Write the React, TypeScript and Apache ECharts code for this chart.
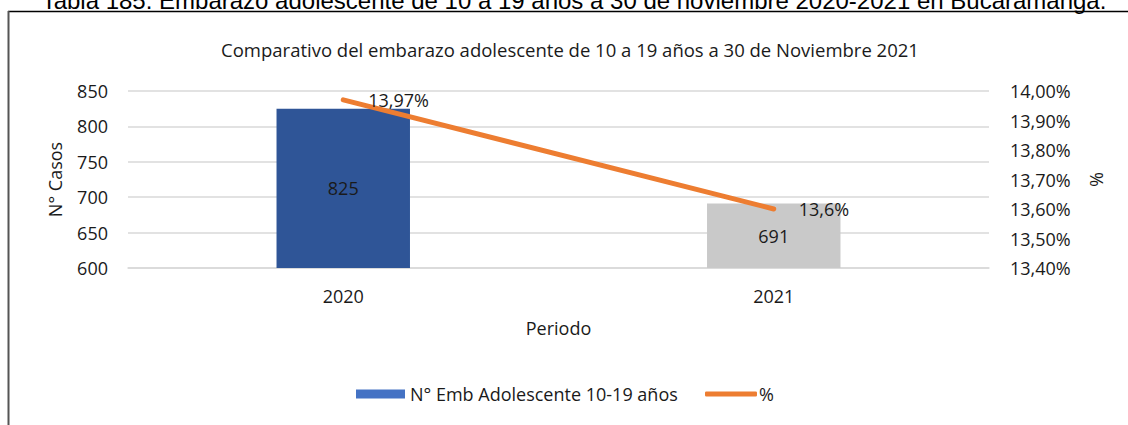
import React, { useEffect, useRef } from "react";
import * as echarts from "echarts";

const categories = ["2020", "2021"];
const casos = [825, 691];
const porcentaje = [13.97, 13.6];
const barColors = ["#2F5597", "#C9C9C9"];
const leftTicks = { min: 600, max: 850, interval: 50 };
const rightTicks = { min: 13.4, max: 14.0, interval: 0.1 };
const caption = "Tabla 185. Embarazo adolescente de 10 a 19 años a 30 de noviembre 2020-2021 en Bucaramanga.";
const title = "Comparativo del embarazo adolescente de 10 a 19 años a 30 de Noviembre 2021";
const barName = "N° Emb Adolescente 10-19 años";
const lineName = "%";

const FONT = "'Open Sans', 'Noto Sans', sans-serif";
const TXT = "#1a1a1a";
const FS = 18;

export default function App() {
  const ref = useRef<HTMLDivElement>(null);
  useEffect(() => {
    if (!ref.current) return;
    const chart = echarts.init(ref.current, null, { renderer: "svg" });
    chart.setOption({
      animation: false,
      backgroundColor: "#ffffff",
      textStyle: { fontFamily: FONT },
      title: {
        text: title,
        left: 565,
        textAlign: "center",
        top: 35,
        textStyle: { fontFamily: FONT, fontSize: 18.5, fontWeight: "normal", color: TXT },
      },
      graphic: [
        {
          type: "text",
          x: 574,
          y: 12.5,
          style: {
            text: caption,
            font: "24px 'Liberation Sans', Arial, sans-serif",
            fill: "#000",
            align: "center",
            verticalAlign: "bottom",
          },
        },
        { type: "line", shape: { x1: 8, y1: 11.5, x2: 1128, y2: 11.5 }, style: { stroke: "#000", lineWidth: 1.5 } },
        { type: "line", shape: { x1: 8.5, y1: 11, x2: 8.5, y2: 425 }, style: { stroke: "#555555", lineWidth: 2 } },
      ],
      legend: [
        {
          left: 356,
          top: 385,
          padding: 0,
          itemWidth: 49,
          itemHeight: 9,
          textStyle: { fontFamily: FONT, fontSize: FS, color: TXT },
          data: [{ name: barName, icon: "rect", itemStyle: { color: "#4472C4" } }],
        },
        {
          left: 705,
          top: 385,
          padding: 0,
          itemWidth: 52,
          itemHeight: 5,
          textStyle: { fontFamily: FONT, fontSize: FS, color: TXT, padding: [0, 0, 0, -3] },
          data: [{ name: lineName, icon: "roundRect", itemStyle: { color: "#ED7D31", opacity: 1 } }],
        },
      ],
      grid: { left: 128, right: 139, top: 91, bottom: 157 },
      xAxis: {
        type: "category",
        data: categories,
        name: "Periodo",
        nameLocation: "middle",
        nameGap: 51,
        nameTextStyle: { fontFamily: FONT, fontSize: FS, color: TXT },
        axisLine: { show: true, lineStyle: { color: "#D9D9D9", width: 1.5 } },
        axisTick: { show: false },
        axisLabel: { fontFamily: FONT, fontSize: FS, color: TXT, margin: 19 },
      },
      yAxis: [
        {
          type: "value",
          min: leftTicks.min,
          max: leftTicks.max,
          interval: leftTicks.interval,
          name: "N° Casos",
          nameLocation: "middle",
          nameGap: 64,
          nameRotate: 90,
          nameTextStyle: { fontFamily: FONT, fontSize: FS, color: TXT },
          axisLine: { show: false },
          axisTick: { show: false },
          axisLabel: { fontFamily: FONT, fontSize: FS, color: TXT, margin: 20 },
          splitLine: { lineStyle: { color: "#D9D9D9", width: 1.5 } },
        },
        {
          type: "value",
          min: rightTicks.min,
          max: rightTicks.max,
          interval: rightTicks.interval,
          name: "%",
          nameLocation: "middle",
          nameGap: 99,
          nameRotate: -90,
          nameTextStyle: { fontFamily: FONT, fontSize: FS, color: TXT },
          axisLine: { show: false },
          axisTick: { show: false },
          splitLine: { show: false },
          axisLabel: {
            fontFamily: FONT,
            fontSize: FS,
            color: TXT,
            margin: 21,
            formatter: (v: number) => v.toFixed(2).replace(".", ",") + "%",
          },
        },
      ],
      series: [
        {
          name: barName,
          type: "bar",
          yAxisIndex: 0,
          barWidth: "31%",
          data: casos.map((v, i) => ({ value: v, itemStyle: { color: barColors[i] } })),
          label: {
            show: true,
            position: "inside",
            fontFamily: FONT,
            fontSize: FS,
            color: TXT,
          },
        },
        {
          name: lineName,
          type: "line",
          yAxisIndex: 1,
          data: porcentaje,
          symbol: "circle",
          symbolSize: 2,
          showSymbol: true,
          lineStyle: { color: "#ED7D31", width: 5, cap: "round" },
          itemStyle: { color: "#ED7D31" },
          label: {
            show: true,
            position: "right",
            distance: 24,
            fontFamily: FONT,
            fontSize: FS,
            color: TXT,
            formatter: (p: any) => String(p.value).replace(".", ",") + "%",
          },
          z: 5,
        },
      ],
    });
    return () => chart.dispose();
  }, []);
  return (
    <div style={{ position: "fixed", left: 0, top: 0, width: 1128, height: 425, background: "#fff" }}>
      <div ref={ref} style={{ width: 1128, height: 425 }} />
    </div>
  );
}
